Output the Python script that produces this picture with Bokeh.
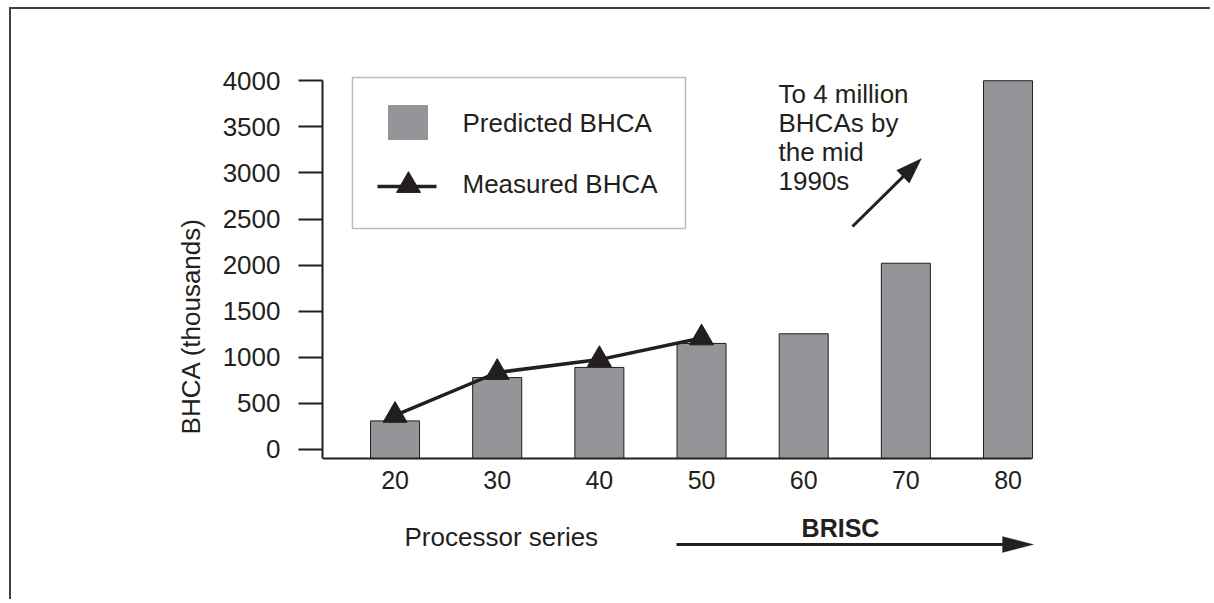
from bokeh.plotting import figure
from bokeh.models import (FixedTicker, Label, Arrow, PolyAnnotation, BoxAnnotation, Range1d)
from bokeh.embed import file_html
from bokeh.resources import INLINE
import math

# ---- data ----
series = [20, 30, 40, 50, 60, 70, 80]
predicted = [310, 780, 890, 1150, 1255, 2020, 4000]
measured_series = [20, 30, 40, 50]
measured = [370, 835, 975, 1210]
y_ticks = [0, 500, 1000, 1500, 2000, 2500, 3000, 3500, 4000]
note_lines = ["To 4 million", "BHCAs by", "the mid", "1990s"]

# ---- style / layout ----
INK = "#231f20"
BAR = "#939598"
FONT = "Liberation Sans"
W, H = 1201, 592
ORIGIN_X, ORIGIN_Y = 11, 9          # canvas origin on the page
X_AT, X_AT_PX, X_PER_PX = 12.9, 322, 0.09788
Y_AT, Y_AT_PX, Y_PER_PX = -98, 458, 10.848
F_LEFT, F_RIGHT, F_TOP, F_BOTTOM = 322, 1040, 71, 580   # frame on the page
AXIS_X_END = 82.3


def dx(px):
    return X_AT + (px - X_AT_PX) * X_PER_PX


def dy(py):
    return Y_AT + (Y_AT_PX - py) * Y_PER_PX


p = figure(width=W, height=H,
           x_range=Range1d(dx(F_LEFT), dx(F_RIGHT)),
           y_range=Range1d(dy(F_BOTTOM), dy(F_TOP)),
           output_backend="svg", toolbar_location=None,
           min_border_left=F_LEFT - ORIGIN_X, min_border_top=F_TOP - ORIGIN_Y,
           min_border_right=W - (F_RIGHT - ORIGIN_X),
           min_border_bottom=H - (F_BOTTOM - ORIGIN_Y))
p.styles = {"margin-left": "9px", "margin-top": "7px",
            "border-left": "2px solid #404040", "border-top": "2px solid #404040"}
p.outline_line_color = None
p.grid.visible = False
p.background_fill_color = "white"
p.border_fill_color = "white"

# x axis (sits at the bar baseline inside the frame)
xa = p.xaxis[0]
xa.fixed_location = Y_AT
xa.bounds = (X_AT, AXIS_X_END)
xa.ticker = FixedTicker(ticks=series)
xa.major_tick_out = 0
xa.major_tick_in = 0
xa.minor_tick_out = 0
xa.minor_tick_in = 0
xa.axis_line_width = 2
xa.axis_line_color = INK
xa.major_label_text_font = FONT
xa.major_label_text_font_size = "25px"
xa.major_label_text_color = INK
xa.major_label_standoff = 12

# y axis
ya = p.yaxis[0]
ya.ticker = FixedTicker(ticks=y_ticks)
ya.bounds = (Y_AT, 4000)
ya.major_tick_out = 24
ya.major_tick_in = 0
ya.minor_tick_out = 0
ya.minor_tick_in = 0
ya.major_tick_line_width = 2
ya.major_tick_line_color = INK
ya.axis_line_width = 2
ya.axis_line_color = INK
ya.major_label_text_font = FONT
ya.major_label_text_font_size = "26px"
ya.major_label_text_color = INK
ya.major_label_standoff = 18
ya.axis_label = "BHCA (thousands)"
ya.axis_label_text_font = FONT
ya.axis_label_text_font_size = "26px"
ya.axis_label_text_font_style = "normal"
ya.axis_label_text_color = INK
ya.axis_label_standoff = 14

# bars
p.vbar(x=series, width=4.8, top=predicted, bottom=Y_AT,
       fill_color=BAR, line_color=INK, line_width=1)

# measured line with triangles
p.line(measured_series, measured, line_width=3.5, line_color=INK)
p.scatter(measured_series, measured, marker="triangle", size=24,
          fill_color=INK, line_color=INK)

# legend (drawn by hand)
p.add_layout(BoxAnnotation(left=dx(352), right=dx(685), top=dy(77), bottom=dy(228),
                           fill_alpha=0, line_color=INK, line_width=1.5))
p.add_layout(BoxAnnotation(left=dx(388), right=dx(427), top=dy(105), bottom=dy(139),
                           fill_color=BAR, fill_alpha=1, line_color=INK, line_width=1))
p.line([dx(377), dx(436)], [dy(186), dy(186)], line_width=3.5, line_color=INK)
p.scatter([dx(408)], [dy(185)], marker="triangle", size=24, fill_color=INK, line_color=INK)
for txt, py in [("Predicted BHCA", 122), ("Measured BHCA", 183)]:
    p.add_layout(Label(x=dx(462), y=dy(py), text=txt, text_baseline="middle",
                       text_font=FONT, text_font_size="26px", text_color=INK))

# note text
for i, t in enumerate(note_lines):
    p.add_layout(Label(x=dx(778), y=dy(93 + i * 29.3), text=t, text_baseline="middle",
                       text_font=FONT, text_font_size="26px", text_color=INK))


def arrow(tail, tip, length, width):
    ux, uy = tip[0] - tail[0], tip[1] - tail[1]
    n = math.hypot(ux, uy)
    ux, uy = ux / n, uy / n
    bx, by = tip[0] - ux * length, tip[1] - uy * length
    px_, py_ = -uy, ux
    p.add_layout(Arrow(x_start=dx(tail[0]), y_start=dy(tail[1]),
                       x_end=dx(bx + ux * 2), y_end=dy(by + uy * 2),
                       end=None, line_width=3, line_color=INK))
    xs = [tip[0], bx + px_ * width / 2, bx - px_ * width / 2]
    ys = [tip[1], by + py_ * width / 2, by - py_ * width / 2]
    p.add_layout(PolyAnnotation(xs=[dx(v) for v in xs], ys=[dy(v) for v in ys],
                                fill_color=INK, fill_alpha=1, line_color=INK, line_width=1))


arrow((852, 226), (921, 158), 26, 18)
arrow((676, 544), (1033, 544), 31, 16)

p.add_layout(Label(x=dx(404), y=dy(536), text="Processor series", text_baseline="middle",
                   text_font=FONT, text_font_size="26px", text_color=INK))
p.add_layout(Label(x=dx(840), y=dy(527), text="BRISC", text_baseline="middle", text_align="center",
                   text_font=FONT, text_font_size="25px", text_font_style="bold", text_color=INK))

open("out.html", "w").write(file_html(p, INLINE))
